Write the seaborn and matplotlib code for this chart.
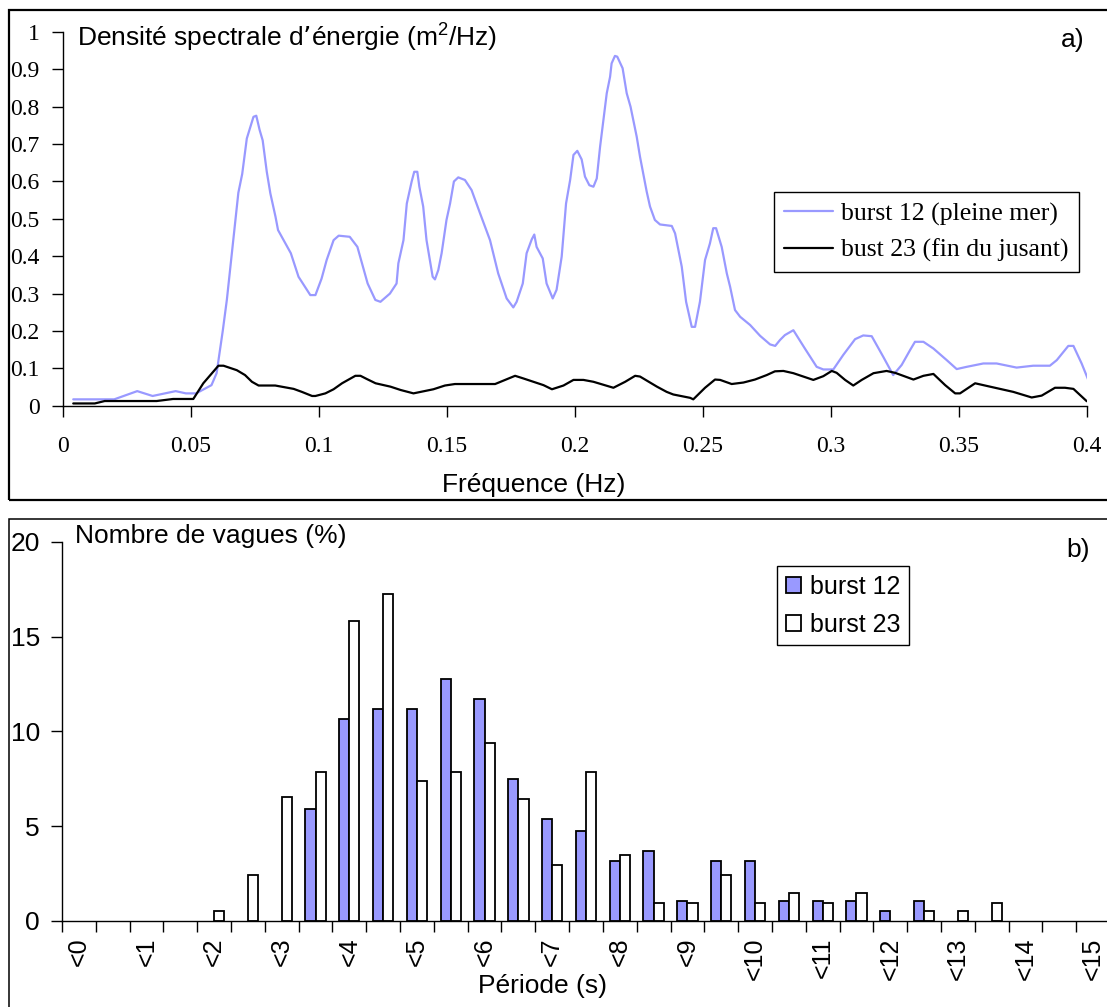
import matplotlib
matplotlib.use("Agg")
import matplotlib.pyplot as plt
import matplotlib.patches as mpatches
import pandas as pd
import seaborn as sns

# ---- a) spectral density (read off the figure) ----
freq_b12 = [0.004, 0.020, 0.029, 0.035, 0.044, 0.048, 0.052, 0.058, 0.060, 0.0624,
            0.064, 0.066, 0.0685, 0.070, 0.0718, 0.0744, 0.0755, 0.0768, 0.078, 0.0796,
            0.081, 0.083, 0.084, 0.089, 0.092, 0.0966, 0.0986, 0.101, 0.103, 0.1057,
            0.1077, 0.112, 0.115, 0.119, 0.122, 0.124, 0.1277, 0.1303, 0.131, 0.133,
            0.1343, 0.1362, 0.1372, 0.1384, 0.1392, 0.1407, 0.142, 0.1433, 0.1444, 0.1453,
            0.1466, 0.1479, 0.1498, 0.1512, 0.1527, 0.1544, 0.157, 0.1596, 0.1629, 0.1668,
            0.170, 0.1733, 0.1759, 0.1772, 0.1796, 0.1811, 0.1831, 0.1841, 0.185, 0.1874,
            0.1889, 0.1913, 0.1928, 0.1948, 0.1965, 0.1981, 0.1994, 0.2009, 0.2026, 0.2039,
            0.2056, 0.2072, 0.2085, 0.2098, 0.2111, 0.2124, 0.2137, 0.2143, 0.2156, 0.2165,
            0.2186, 0.2202, 0.2217, 0.2241, 0.2254, 0.228, 0.2293, 0.2312, 0.2332, 0.2378,
            0.2391, 0.2417, 0.2434, 0.2456, 0.2469, 0.2488, 0.2508, 0.2527, 0.254, 0.2551,
            0.2573, 0.2593, 0.2606, 0.2625, 0.2645, 0.2684, 0.2723, 0.2762, 0.2782, 0.2801,
            0.282, 0.2853, 0.2898, 0.2944, 0.297, 0.3009, 0.3048, 0.3094, 0.3126, 0.3159,
            0.3204, 0.3243, 0.3276, 0.3309, 0.3328, 0.3361, 0.340, 0.3452, 0.3491, 0.353,
            0.3595, 0.3647, 0.3725, 0.379, 0.3855, 0.3882, 0.3927, 0.3947, 0.3979, 0.4005]
dse_b12 = [0.017, 0.017, 0.039, 0.026, 0.039, 0.033, 0.033, 0.055, 0.087, 0.200,
           0.283, 0.410, 0.570, 0.620, 0.715, 0.773, 0.776, 0.738, 0.710, 0.626,
           0.568, 0.506, 0.470, 0.408, 0.345, 0.296, 0.296, 0.340, 0.390, 0.443,
           0.455, 0.452, 0.425, 0.327, 0.283, 0.278, 0.300, 0.327, 0.381, 0.443,
           0.541, 0.600, 0.626, 0.626, 0.586, 0.533, 0.443, 0.390, 0.345, 0.338,
           0.363, 0.408, 0.497, 0.541, 0.600, 0.611, 0.604, 0.577, 0.515, 0.443,
           0.354, 0.287, 0.263, 0.278, 0.327, 0.408, 0.445, 0.458, 0.425, 0.394,
           0.327, 0.287, 0.310, 0.399, 0.541, 0.604, 0.671, 0.682, 0.659, 0.613,
           0.590, 0.586, 0.608, 0.693, 0.765, 0.836, 0.880, 0.916, 0.936, 0.934,
           0.903, 0.836, 0.800, 0.720, 0.666, 0.573, 0.533, 0.497, 0.485, 0.481,
           0.461, 0.372, 0.278, 0.211, 0.211, 0.278, 0.390, 0.434, 0.475, 0.475,
           0.425, 0.354, 0.318, 0.256, 0.238, 0.216, 0.187, 0.164, 0.160, 0.176,
           0.189, 0.202, 0.153, 0.104, 0.097, 0.097, 0.136, 0.178, 0.188, 0.186,
           0.131, 0.082, 0.109, 0.149, 0.171, 0.171, 0.153, 0.122, 0.098, 0.104,
           0.113, 0.113, 0.102, 0.107, 0.107, 0.122, 0.160, 0.160, 0.113, 0.069]

freq_b23 = [0.004, 0.0124, 0.0163, 0.0366, 0.043, 0.0509, 0.0548, 0.0587, 0.0607, 0.0627,
            0.0679, 0.0711, 0.0738, 0.0764, 0.0829, 0.0901, 0.0933, 0.0973, 0.0986, 0.1025,
            0.1057, 0.109, 0.1142, 0.1162, 0.1188, 0.1221, 0.1279, 0.1319, 0.1369, 0.1447,
            0.1492, 0.1531, 0.1688, 0.1727, 0.1766, 0.1798, 0.1877, 0.191, 0.1955, 0.1994,
            0.2033, 0.2072, 0.215, 0.2196, 0.2235, 0.2254, 0.232, 0.2358, 0.2384, 0.245,
            0.2462, 0.2508, 0.2547, 0.2567, 0.2612, 0.2658, 0.2703, 0.2749, 0.2781, 0.2814,
            0.2853, 0.2931, 0.297, 0.3003, 0.3022, 0.3055, 0.3087, 0.312, 0.3166, 0.3217,
            0.325, 0.3322, 0.3361, 0.340, 0.3446, 0.3485, 0.3504, 0.3563, 0.3608, 0.3712,
            0.3784, 0.3823, 0.3875, 0.3914, 0.3947, 0.3999]
dse_b23 = [0.006, 0.006, 0.0125, 0.0125, 0.018, 0.018, 0.060, 0.091, 0.107, 0.107,
           0.095, 0.082, 0.064, 0.054, 0.054, 0.045, 0.037, 0.026, 0.026, 0.033,
           0.044, 0.060, 0.080, 0.080, 0.071, 0.060, 0.051, 0.042, 0.033, 0.044,
           0.054, 0.058, 0.058, 0.069, 0.080, 0.073, 0.055, 0.044, 0.054, 0.069,
           0.069, 0.064, 0.048, 0.064, 0.080, 0.078, 0.051, 0.037, 0.030, 0.021,
           0.017, 0.048, 0.070, 0.069, 0.058, 0.062, 0.070, 0.082, 0.092, 0.093,
           0.087, 0.069, 0.079, 0.093, 0.088, 0.069, 0.054, 0.069, 0.087, 0.093,
           0.088, 0.070, 0.080, 0.085, 0.055, 0.033, 0.033, 0.060, 0.053, 0.037,
           0.022, 0.027, 0.048, 0.048, 0.045, 0.012]

freq_ticks = [0, 0.05, 0.1, 0.15, 0.2, 0.25, 0.3, 0.35, 0.4]
freq_labels = ["0", "0.05", "0.1", "0.15", "0.2", "0.25", "0.3", "0.35", "0.4"]
dse_ticks = [0, 0.1, 0.2, 0.3, 0.4, 0.5, 0.6, 0.7, 0.8, 0.9, 1]
dse_labels = ["0", "0.1", "0.2", "0.3", "0.4", "0.5", "0.6", "0.7", "0.8", "0.9", "1"]

# ---- b) wave period histogram (%) ----
periodes = ["<0", "<0.5", "<1", "<1.5", "<2", "<2.5", "<3", "<3.5", "<4", "<4.5",
            "<5", "<5.5", "<6", "<6.5", "<7", "<7.5", "<8", "<8.5", "<9", "<9.5",
            "<10", "<10.5", "<11", "<11.5", "<12", "<12.5", "<13", "<13.5", "<14", "<14.5",
            "<15"]
pct_b12 = [0, 0, 0, 0, 0, 0, 0, 5.89, 10.63, 11.16,
           11.16, 12.74, 11.69, 7.47, 5.36, 4.75, 3.16, 3.69, 1.05, 3.16,
           3.16, 1.05, 1.05, 1.05, 0.53, 1.05, 0, 0, 0, 0,
           0]
pct_b23 = [0, 0, 0, 0, 0.53, 2.41, 6.54, 7.87, 15.82, 17.26,
           7.38, 7.87, 9.37, 6.41, 2.95, 7.87, 3.48, 0.93, 0.93, 2.43,
           0.93, 1.46, 0.93, 1.46, 0, 0.53, 0.53, 0.93, 0, 0,
           0]
pct_ticks = [0, 5, 10, 15, 20]

BLUE = "#9999FF"
SERIF = ["Liberation Serif", "DejaVu Serif"]
bar_colors = {"burst 12": BLUE, "burst 23": "white"}

sns.set_theme(style="white")
plt.rcParams["font.family"] = ["Liberation Sans", "DejaVu Sans"]
plt.rcParams["mathtext.default"] = "regular"
for k in ["text.color", "axes.labelcolor", "xtick.color", "ytick.color", "axes.edgecolor"]:
    plt.rcParams[k] = "black"

W, H = 1107, 1007
fig = plt.figure(figsize=(W / 100, H / 100), dpi=100)


def box(l, t, r, b):
    return [l / W, 1 - b / H, (r - l) / W, (b - t) / H]


ax1 = fig.add_axes(box(63, 32, 1087, 405.7))
ax2 = fig.add_axes(box(62, 541.7, 1110, 921))

# panel frames
fig.add_artist(mpatches.Rectangle((9 / W, 1 - 500 / H), 1.2, 490 / H, transform=fig.transFigure,
                                  fill=False, lw=1.6, ec="black"))
fig.add_artist(mpatches.Rectangle((9 / W, 1 - 1030 / H), 1.2, 511 / H, transform=fig.transFigure,
                                  fill=False, lw=1.1, ec="black"))

# ---- top ----
sns.lineplot(x=freq_b12, y=dse_b12, color=BLUE, lw=1.6, sort=False, estimator=None,
             label="burst 12 (pleine mer)", ax=ax1)
sns.lineplot(x=freq_b23, y=dse_b23, color="black", lw=1.6, sort=False, estimator=None,
             label="bust 23 (fin du jusant)", ax=ax1)
ax1.set_xlim(0, 0.4)
ax1.set_ylim(0, 1)
ax1.set_xticks(freq_ticks, freq_labels)
ax1.set_yticks(dse_ticks, dse_labels)
ax1.tick_params(axis="both", length=8, width=1, color="black", direction="out",
                labelsize=17, labelcolor="black", bottom=True, left=True)
ax1.tick_params(axis="x", pad=14)
ax1.tick_params(axis="y", pad=9)
for lab in ax1.get_xticklabels() + ax1.get_yticklabels():
    lab.set_fontfamily(SERIF)
for s in ["top", "right"]:
    ax1.spines[s].set_visible(False)
for s in ["left", "bottom"]:
    ax1.spines[s].set_color("black")
    ax1.spines[s].set_linewidth(1)
ax1.set_xlabel("")
ax1.set_ylabel("")
leg1 = ax1.legend(loc="upper left", bbox_to_anchor=(774 / W, 1 - 192 / H), bbox_transform=fig.transFigure,
                  prop={"family": SERIF, "size": 18.5}, frameon=True, fancybox=False, edgecolor="black",
                  framealpha=1, handlelength=1.9, handletextpad=0.3, borderpad=0.4, labelspacing=0.5,
                  borderaxespad=0)
leg1.get_frame().set_linewidth(1.0)

fig.text(77 / W, 1 - 47 / H, "Densité spectrale d’énergie (m$^{2}$/Hz)", fontsize=19, va="baseline", ha="left")
fig.text(1085 / W, 1 - 47 / H, "a)", fontsize=19, va="baseline", ha="right")
fig.text(534 / W, 1 - 492 / H, "Fréquence (Hz)", fontsize=19, va="baseline", ha="center")

# ---- bottom ----
df = pd.DataFrame({
    "periode": periodes + periodes,
    "pct": pct_b12 + pct_b23,
    "burst": ["burst 12"] * len(periodes) + ["burst 23"] * len(periodes),
})
sns.barplot(data=df, x="periode", y="pct", hue="burst", order=periodes,
            palette=bar_colors, saturation=1, legend=False,
            edgecolor="black", linewidth=1.3, width=0.6, errorbar=None, ax=ax2)
for bar in ax2.patches:
    if bar.get_height() == 0:
        bar.set_visible(False)
ax2.set_xlim(-0.5, len(periodes) - 0.5)
ax2.set_ylim(0, 20)
ax2.set_yticks(pct_ticks, [str(t) for t in pct_ticks])
ax2.set_xticks(range(0, len(periodes), 2), periodes[::2], rotation=90)
ax2.set_xticks([i - 0.5 for i in range(len(periodes) + 1)], minor=True)
ax2.tick_params(axis="x", which="major", length=0, pad=12, labelsize=18, labelcolor="black")
ax2.tick_params(axis="x", which="minor", length=8, width=1, color="black", direction="out", bottom=True)
ax2.tick_params(axis="y", length=8, width=1, color="black", direction="out", pad=8, labelsize=19,
                labelcolor="black", left=True)
for s in ["top", "right"]:
    ax2.spines[s].set_visible(False)
for s in ["left", "bottom"]:
    ax2.spines[s].set_color("black")
    ax2.spines[s].set_linewidth(1)
ax2.set_xlabel("")
ax2.set_ylabel("")
handles = [mpatches.Patch(facecolor=c, edgecolor="black", lw=1.3) for c in bar_colors.values()]
leg2 = ax2.legend(handles, list(bar_colors.keys()), loc="upper left", bbox_to_anchor=(777 / W, 1 - 566 / H),
                  bbox_transform=fig.transFigure, fontsize=18, frameon=True, fancybox=False,
                  edgecolor="black", framealpha=1, handlelength=0.6, handleheight=0.6,
                  handletextpad=0.35, borderpad=0.35, labelspacing=0.55, borderaxespad=0)
leg2.get_frame().set_linewidth(1.0)

fig.text(75 / W, 1 - 543 / H, "Nombre de vagues (%)", fontsize=19, va="baseline", ha="left")
fig.text(1090 / W, 1 - 557 / H, "b)", fontsize=19, va="baseline", ha="right")
fig.text(543 / W, 1 - 993 / H, "Période (s)", fontsize=19, va="baseline", ha="center")

fig.savefig("out.png", dpi=100)
